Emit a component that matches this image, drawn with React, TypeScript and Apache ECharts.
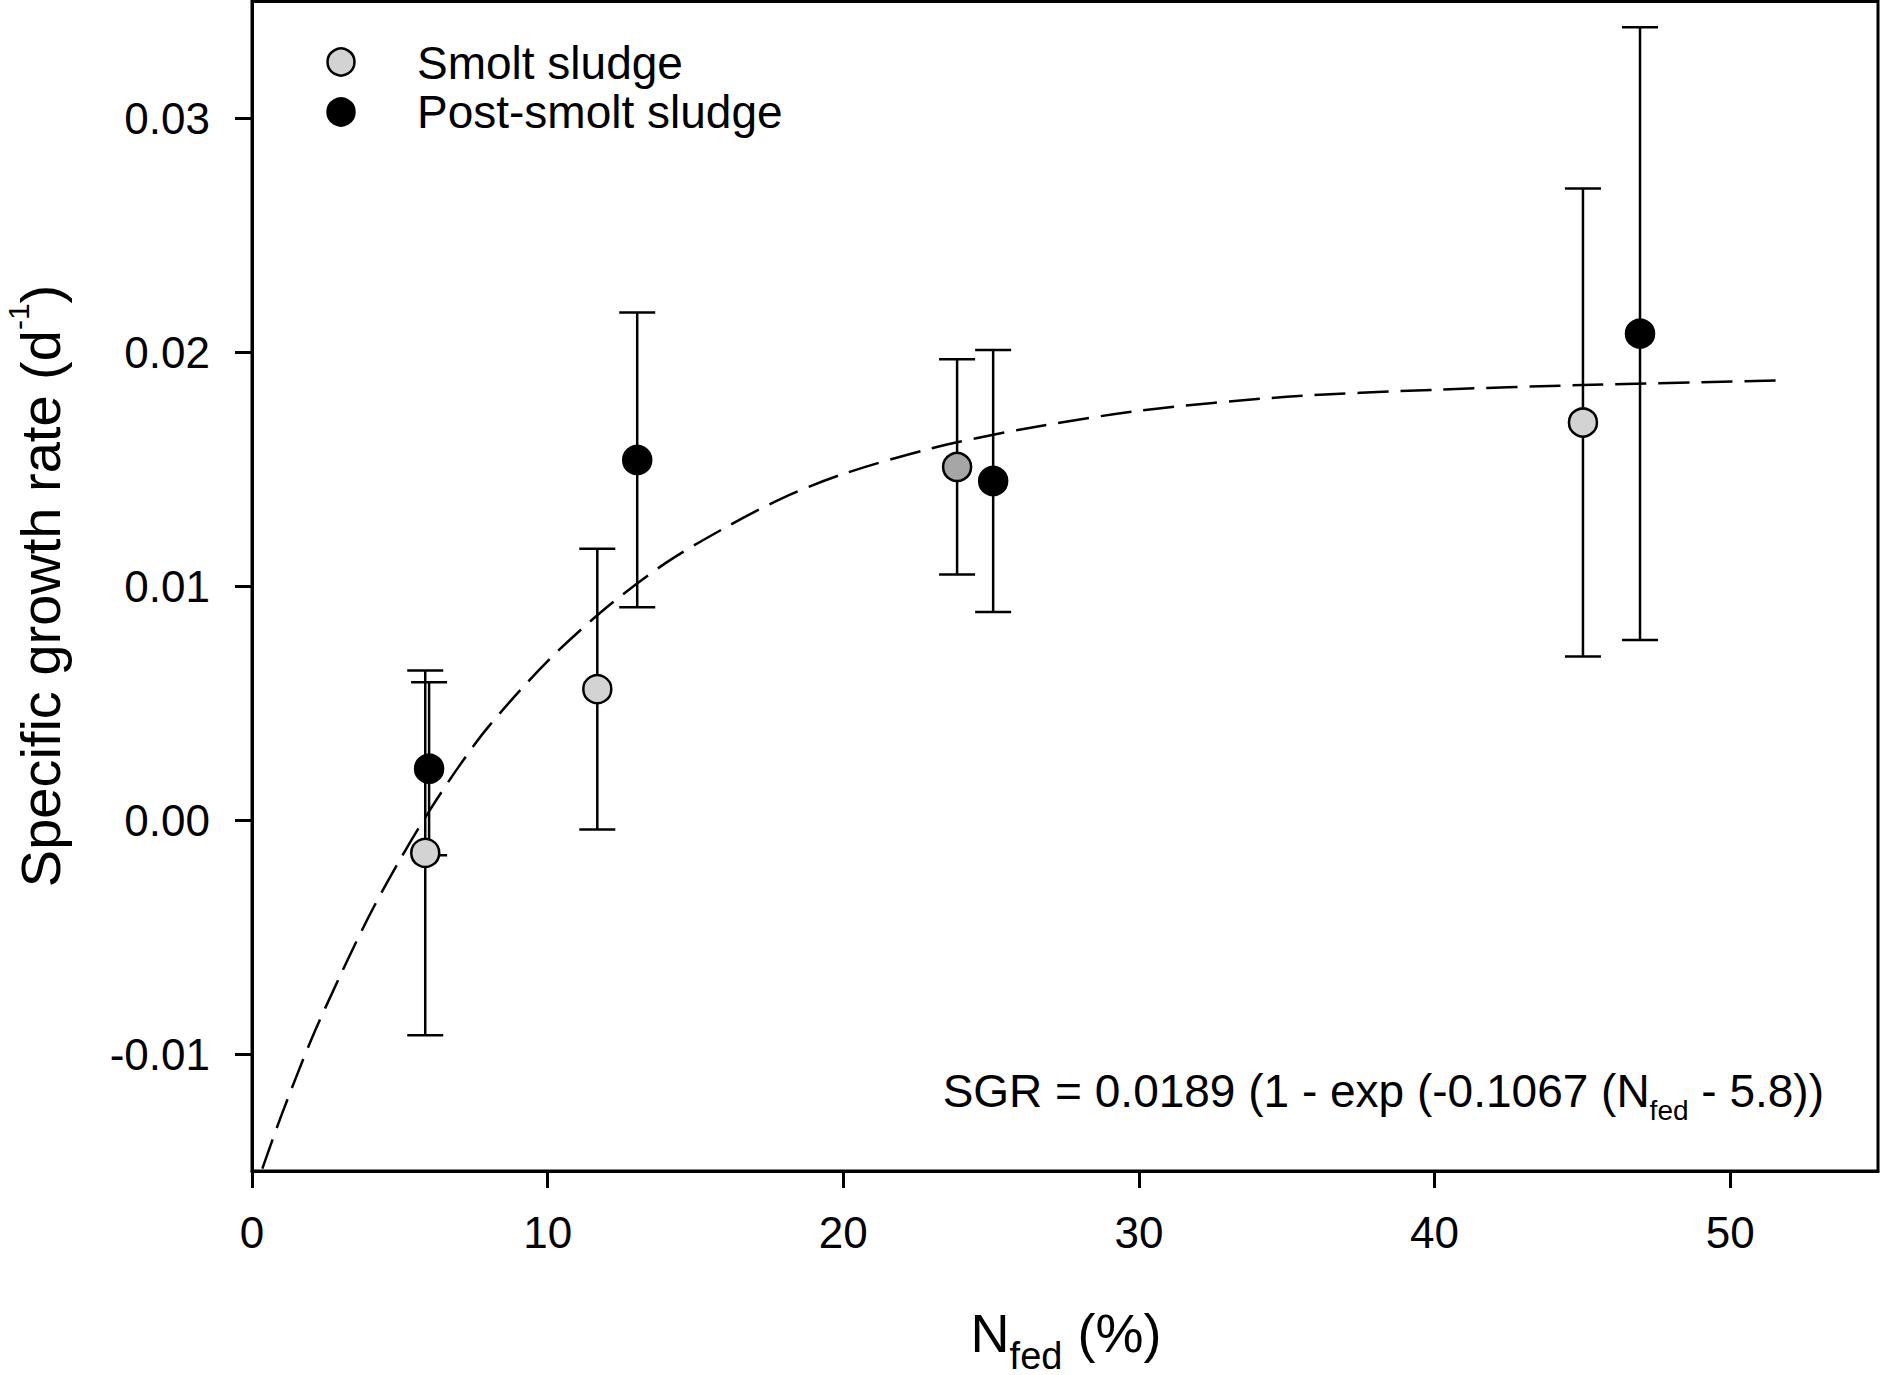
import React, { useEffect, useRef } from "react";
import * as echarts from "echarts";

// ---- data ----
const smoltX = [5.86, 11.68, 23.85, 45.02];
const smoltY = [-0.0014, 0.0056, 0.0151, 0.017];
const smoltErr = [0.0078, 0.006, 0.0046, 0.01];

const postX = [5.99, 13.03, 25.07, 46.95];
const postY = [0.0022, 0.0154, 0.0145, 0.0208];
const postErr = [0.0037, 0.0063, 0.0056, 0.0131];

// fitted curve
const curveX = [0.35, 1, 2, 3, 4, 5, 6, 7, 8, 10, 12, 14, 16, 18, 20, 23, 26, 30, 35, 40, 45, 51.8];
const curveY = [
  -0.0149, -0.0126, -0.0094, -0.0066, -0.004, -0.0017, 0.0004, 0.0023, 0.004, 0.0068, 0.0091,
  0.011, 0.0125, 0.0138, 0.0148, 0.0159, 0.0167, 0.0175, 0.0181, 0.0184, 0.0186, 0.0188,
];

const xTicks = [0, 10, 20, 30, 40, 50];
const yTicks = [-0.01, 0, 0.01, 0.02, 0.03];

const seriesNames = ["Smolt sludge", "Post-smolt sludge"];
const equationText = ["SGR = 0.0189 (1 - exp (-0.1067 (N", "fed", " - 5.8))"];

const FONT = "'Liberation Sans', Arial, sans-serif";

export default function App() {
  const ref = useRef<HTMLDivElement>(null);

  useEffect(() => {
    if (!ref.current) return;
    const chart = echarts.init(ref.current, undefined, { renderer: "svg" });

    const errData = (xs: number[], ys: number[], es: number[]) =>
      xs.map((x, i) => [x, ys[i], ys[i] - es[i], ys[i] + es[i]]);

    const errorRender = (params: any, api: any) => {
      const x = api.value(0);
      const lo = api.value(2);
      const hi = api.value(3);
      const pHi = api.coord([x, hi]);
      const pLo = api.coord([x, lo]);
      const hw = 18;
      const st = { stroke: "#000", lineWidth: 2.5 };
      return {
        type: "group",
        children: [
          { type: "line", shape: { x1: pHi[0], y1: pHi[1], x2: pLo[0], y2: pLo[1] }, style: st },
          { type: "line", shape: { x1: pHi[0] - hw, y1: pHi[1], x2: pHi[0] + hw, y2: pHi[1] }, style: st },
          { type: "line", shape: { x1: pLo[0] - hw, y1: pLo[1], x2: pLo[0] + hw, y2: pLo[1] }, style: st },
        ],
      };
    };

    const smoltData = smoltX.map((x, i) => ({
      value: [x, smoltY[i]],
      itemStyle: i === 2 ? { color: "#a6a6a6" } : undefined,
    }));

    chart.setOption({
      animation: false,
      backgroundColor: "#fff",
      grid: {
        left: 252,
        right: 2,
        top: 1.5,
        bottom: 204,
        show: true,
        borderColor: "#000",
        borderWidth: 3,
        backgroundColor: "transparent",
      },
      xAxis: {
        type: "value",
        min: 0,
        max: 55,
        splitLine: { show: false },
        axisLine: { show: true, onZero: false, lineStyle: { color: "#000", width: 3 } },
        axisTick: { show: true, inside: false, length: 17, lineStyle: { color: "#000", width: 3 }, customValues: xTicks },
        axisLabel: {
          customValues: xTicks,
          color: "#000",
          fontSize: 44,
          fontFamily: FONT,
          margin: 39,
        },
      },
      yAxis: {
        type: "value",
        min: -0.015,
        max: 0.035,
        interval: 0.005,
        splitLine: { show: false },
        axisLine: { show: true, onZero: false, lineStyle: { color: "#000", width: 3 } },
        axisTick: { show: true, inside: false, length: 17, lineStyle: { color: "#000", width: 3 }, customValues: yTicks },
        axisLabel: {
          customValues: yTicks,
          color: "#000",
          fontSize: 44,
          fontFamily: FONT,
          margin: 42,
          formatter: (v: number) => v.toFixed(2),
        },
      },
      series: [
        {
          type: "custom",
          name: "smolt-err",
          renderItem: errorRender,
          data: errData(smoltX, smoltY, smoltErr),
          encode: { x: 0, y: 1 },
          z: 1,
          silent: true,
        },
        {
          type: "custom",
          name: "post-err",
          renderItem: errorRender,
          data: errData(postX, postY, postErr),
          encode: { x: 0, y: 1 },
          z: 1,
          silent: true,
        },
        {
          type: "line",
          name: "fit",
          data: curveX.map((x, i) => [x, curveY[i]]),
          smooth: 0.3,
          showSymbol: false,
          symbol: "none",
          lineStyle: { color: "#000", width: 2.5, type: [31, 12] },
          z: 2,
          silent: true,
        },
        {
          type: "scatter",
          name: seriesNames[0],
          data: smoltData,
          symbol: "circle",
          symbolSize: 28,
          itemStyle: { color: "#d3d3d3", borderColor: "#000", borderWidth: 2.5, opacity: 1 },
          z: 3,
        },
        {
          type: "scatter",
          name: seriesNames[1],
          data: postX.map((x, i) => [x, postY[i]]),
          symbol: "circle",
          symbolSize: 28,
          itemStyle: { color: "#000", borderColor: "#000", borderWidth: 2.5, opacity: 1 },
          z: 4,
        },
      ],
      graphic: [
        // legend
        { type: "circle", shape: { cx: 341, cy: 62, r: 13.5 }, style: { fill: "#d3d3d3", stroke: "#000", lineWidth: 2.5 }, z: 10 },
        { type: "circle", shape: { cx: 341, cy: 112, r: 13.5 }, style: { fill: "#000", stroke: "#000", lineWidth: 2.5 }, z: 10 },
        {
          type: "text",
          x: 417,
          y: 62.5,
          style: { text: seriesNames[0], fontSize: 46, fontFamily: FONT, fill: "#000", align: "left", verticalAlign: "middle" },
          z: 10,
        },
        {
          type: "text",
          x: 417,
          y: 112,
          style: { text: seriesNames[1], fontSize: 46, fontFamily: FONT, fill: "#000", align: "left", verticalAlign: "middle" },
          z: 10,
        },
        // equation
        {
          type: "text",
          x: 1824,
          y: 1091,
          style: {
            text: `{m|${equationText[0]}}{s|${equationText[1]}}{m|${equationText[2]}}`,
            align: "right",
            verticalAlign: "middle",
            rich: {
              m: { fontSize: 46, fontFamily: FONT, fill: "#000" },
              s: { fontSize: 28, fontFamily: FONT, fill: "#000", padding: [38, 0, 0, 0] },
            },
          },
          z: 10,
        },
        // x axis title
        {
          type: "text",
          x: 1066,
          y: 1333,
          style: {
            text: "{m|N}{s|fed}{m| (%)}",
            align: "center",
            verticalAlign: "middle",
            rich: {
              m: { fontSize: 54, fontFamily: FONT, fill: "#000" },
              s: { fontSize: 38, fontFamily: FONT, fill: "#000", padding: [45, 0, 0, 0] },
            },
          },
          z: 10,
        },
        // y axis title
        {
          type: "text",
          x: 40,
          y: 586,
          rotation: Math.PI / 2,
          style: {
            text: "{m|Specific growth rate (d}{p|-1}{m|)}",
            align: "center",
            verticalAlign: "middle",
            rich: {
              m: { fontSize: 56, fontFamily: FONT, fill: "#000" },
              p: { fontSize: 30, fontFamily: FONT, fill: "#000", padding: [0, 0, 44, 0] },
            },
          },
          z: 10,
        },
      ],
    });

    return () => chart.dispose();
  }, []);

  return (
    <div
      ref={ref}
      style={{ position: "absolute", left: 0, top: 0, width: 1880, height: 1375, background: "#fff" }}
    />
  );
}
